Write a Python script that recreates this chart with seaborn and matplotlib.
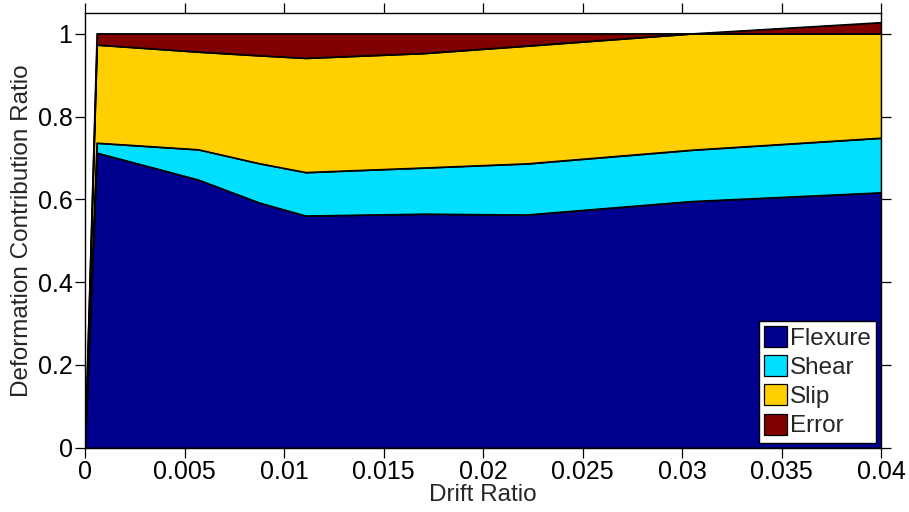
import matplotlib
matplotlib.use("Agg")
import matplotlib.pyplot as plt
import numpy as np
import pandas as pd
import seaborn as sns

# Drift ratio at each load step and the share of each deformation component
drift = [0.0, 0.0006, 0.0057, 0.0088, 0.0111, 0.017, 0.0222, 0.0305, 0.04]
flexure = [0.0, 0.712, 0.647, 0.591, 0.560, 0.5645, 0.5625, 0.595, 0.616]
shear = [0.0, 0.024, 0.073, 0.095, 0.105, 0.1115, 0.1235, 0.124, 0.132]
slip = [0.0, 0.237, 0.236, 0.261, 0.276, 0.2765, 0.2845, 0.281, 0.252]
error = [0.0, 0.027, 0.044, 0.053, 0.059, 0.0475, 0.0295, 0.0, 0.027]

components = ["Flexure", "Shear", "Slip", "Error"]
colors = ["#00008F", "#00DFFF", "#FFCF00", "#800000"]

xticks = [0, 0.005, 0.01, 0.015, 0.02, 0.025, 0.03, 0.035, 0.04]
xticklabels = ["0", "0.005", "0.01", "0.015", "0.02", "0.025", "0.03", "0.035", "0.04"]
yticks = [0, 0.2, 0.4, 0.6, 0.8, 1.0]
yticklabels = ["0", "0.2", "0.4", "0.6", "0.8", "1"]

sns.set_style("ticks")
plt.rcParams["font.family"] = ["Liberation Sans", "DejaVu Sans"]

df = pd.DataFrame({"drift": drift, "Flexure": flexure, "Shear": shear,
                   "Slip": slip, "Error": error})

fig = plt.figure(figsize=(9.09, 5.12), dpi=100)
ax = fig.add_axes([85 / 909, (512 - 447.7) / 512, (881 - 85) / 909, (447.7 - 13) / 512])

ax.stackplot(df["drift"], *[df[c] for c in components], colors=colors,
             labels=components, edgecolor="black", linewidth=0.9)

# outline of each stacked boundary
cum = df[components].cumsum(axis=1)
for c in components:
    sns.lineplot(x=df["drift"], y=cum[c], ax=ax, color="black", linewidth=0.9,
                 legend=False, sort=False)

ax.set_xlim(0, 0.04)
ax.set_ylim(0, 1.05)
ax.set_xticks(xticks)
ax.set_xticklabels(xticklabels)
ax.set_yticks(yticks)
ax.set_yticklabels(yticklabels)
ax.tick_params(direction="out", length=7, width=0.9, top=True, right=True,
               labeltop=False, labelright=False, labelsize=18, pad=2,
               colors="black")
for s in ax.spines.values():
    s.set_visible(True)
    s.set_color("black")
    s.set_linewidth(1.0)

ax.set_xlabel("Drift Ratio", fontsize=17.5, labelpad=0)
ax.set_ylabel("Deformation Contribution Ratio", fontsize=17.5, labelpad=3)

leg = ax.legend(loc="lower right", fontsize=17.5, frameon=True, fancybox=False,
                edgecolor="black", framealpha=1, borderaxespad=0.2,
                handlelength=0.95, handleheight=0.95, handletextpad=0.12,
                labelspacing=0.22, borderpad=0.22)
leg.get_frame().set_linewidth(1.0)

fig.savefig("out.png", dpi=100)
